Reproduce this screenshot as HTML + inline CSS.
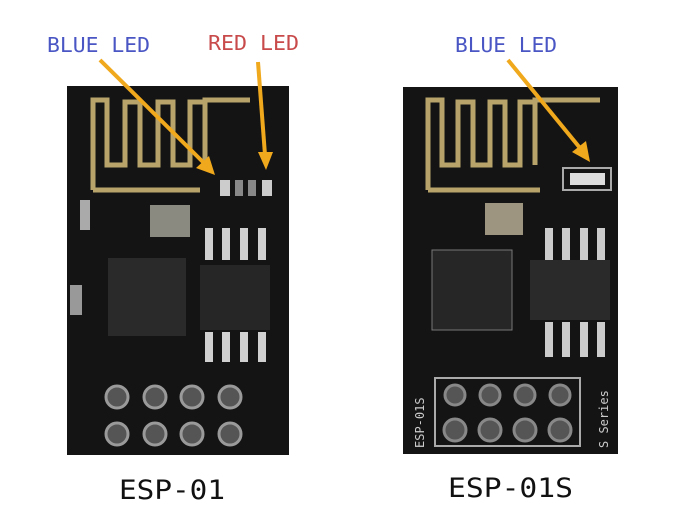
<!DOCTYPE html>
<html><head><style>
html,body{margin:0;padding:0;background:#fff;}
svg{display:block}
text{font-family:"DejaVu Sans Mono","Liberation Mono",monospace;}
</style></head><body>
<svg width="691" height="525" viewBox="0 0 691 525" xmlns="http://www.w3.org/2000/svg">
<rect width="691" height="525" fill="#fff"/>
<!-- LEFT BOARD -->
<rect x="67" y="86" width="222" height="369" fill="#141414"/>
<path d="M93 190 V100 H107 V165 H125 V102 H140 V165 H158 V102 H173 V165 H190 V102 H205 V165 H205 V100 H250" fill="none" stroke="#b8a46a" stroke-width="5"/>
<path d="M93 190 H200" fill="none" stroke="#b8a46a" stroke-width="5"/>
<rect x="150" y="205" width="40" height="32" fill="#8a8a80"/>
<rect x="220" y="180" width="10" height="16" fill="#ccc"/>
<rect x="235" y="180" width="8" height="16" fill="#888"/>
<rect x="248" y="180" width="8" height="16" fill="#888"/>
<rect x="262" y="180" width="10" height="16" fill="#ccc"/>
<rect x="108" y="258" width="78" height="78" fill="#2a2a2a"/>
<rect x="200" y="265" width="70" height="65" fill="#262626"/>
<g fill="#d0d0d0">
<rect x="205" y="228" width="8" height="32"/><rect x="222" y="228" width="8" height="32"/><rect x="240" y="228" width="8" height="32"/><rect x="258" y="228" width="8" height="32"/>
<rect x="205" y="332" width="8" height="30"/><rect x="222" y="332" width="8" height="30"/><rect x="240" y="332" width="8" height="30"/><rect x="258" y="332" width="8" height="30"/>
<rect x="70" y="285" width="12" height="30" fill="#999"/>
<rect x="80" y="200" width="10" height="30" fill="#aaa"/>
</g>
<g fill="#555" stroke="#9a9a9a" stroke-width="3">
<circle cx="117" cy="397" r="11"/><circle cx="155" cy="397" r="11"/><circle cx="192" cy="397" r="11"/><circle cx="230" cy="397" r="11"/>
<circle cx="117" cy="434" r="11"/><circle cx="155" cy="434" r="11"/><circle cx="192" cy="434" r="11"/><circle cx="230" cy="434" r="11"/>
</g>
<!-- RIGHT BOARD -->
<rect x="403" y="87" width="215" height="367" fill="#141414"/>
<path d="M428 190 V100 H442 V165 H458 V102 H473 V165 H490 V102 H505 V165 H520 V102 H535 V165 H535 V100 H600" fill="none" stroke="#b8a46a" stroke-width="5"/>
<path d="M428 190 H540" fill="none" stroke="#b8a46a" stroke-width="5"/>
<rect x="563" y="168" width="48" height="22" fill="none" stroke="#aaa" stroke-width="2"/>
<rect x="570" y="173" width="35" height="12" fill="#ddd"/>
<rect x="485" y="203" width="38" height="32" fill="#9e9580"/>
<rect x="432" y="250" width="80" height="80" fill="#262626" stroke="#777"/>
<rect x="530" y="260" width="80" height="60" fill="#2a2a2a"/>
<g fill="#ccc">
<rect x="545" y="228" width="8" height="32"/><rect x="562" y="228" width="8" height="32"/><rect x="580" y="228" width="8" height="32"/><rect x="597" y="228" width="8" height="32"/>
<rect x="545" y="322" width="8" height="35"/><rect x="562" y="322" width="8" height="35"/><rect x="580" y="322" width="8" height="35"/><rect x="597" y="322" width="8" height="35"/>
</g>
<rect x="435" y="378" width="145" height="68" fill="none" stroke="#aaa" stroke-width="2"/>
<g fill="#555" stroke="#888" stroke-width="3">
<circle cx="455" cy="395" r="10"/><circle cx="490" cy="395" r="10"/><circle cx="525" cy="395" r="10"/><circle cx="560" cy="395" r="10"/>
<circle cx="455" cy="430" r="11"/><circle cx="490" cy="430" r="11"/><circle cx="525" cy="430" r="11"/><circle cx="560" cy="430" r="11"/>
</g>
<text x="0" y="0" transform="translate(424,448) rotate(-90)" fill="#ccc" font-size="12">ESP-01S</text>
<text x="0" y="0" transform="translate(608,448) rotate(-90)" fill="#ccc" font-size="12">S Series</text>
<!-- ARROWS -->
<g stroke="#f0a81c" stroke-width="4" fill="#f0a81c">
<line x1="100" y1="60" x2="206" y2="165"/>
<line x1="258" y1="62" x2="265" y2="155"/>
<line x1="508" y1="60" x2="580" y2="148"/>
</g>
<g fill="#f0a81c">
<polygon points="215,175 196,168 209,156"/>
<polygon points="266,170 258,152 273,152"/>
<polygon points="590,162 572,152 586,141"/>
</g>
<!-- LABELS -->
<text x="47" y="52" fill="#4a56c4" font-size="20" textLength="103" lengthAdjust="spacingAndGlyphs">BLUE LED</text>
<text x="208" y="50" fill="#c84a4a" font-size="20" textLength="91" lengthAdjust="spacingAndGlyphs">RED LED</text>
<text x="455" y="52" fill="#4a56c4" font-size="20" textLength="102" lengthAdjust="spacingAndGlyphs">BLUE LED</text>
<text x="119" y="499" fill="#111" font-size="27" textLength="106" lengthAdjust="spacingAndGlyphs">ESP-01</text>
<text x="448" y="497" fill="#111" font-size="27" textLength="125" lengthAdjust="spacingAndGlyphs">ESP-01S</text>
</svg>
</body></html>
